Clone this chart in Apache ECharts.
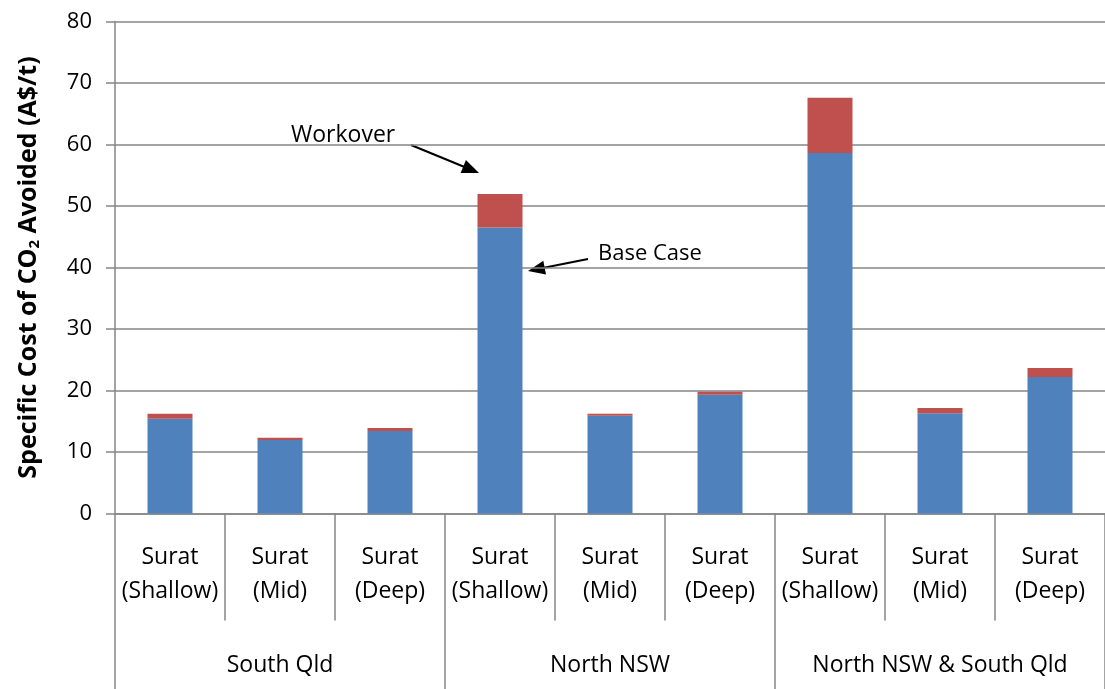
<!DOCTYPE html>
<html>
<head>
<meta charset="utf-8">
<title>Specific Cost of CO2 Avoided</title>
<script src="https://cdn.jsdelivr.net/npm/echarts@6/dist/echarts.min.js"></script>
<style>
  html, body { margin: 0; padding: 0; background: #ffffff; }
  #chart { width: 1105px; height: 689px; }
</style>
</head>
<body>
<div id="chart"></div>
<script>
// Region / depth categories
const categories = [
  'Surat\n(Shallow)', 'Surat\n(Mid)', 'Surat\n(Deep)',
  'Surat\n(Shallow)', 'Surat\n(Mid)', 'Surat\n(Deep)',
  'Surat\n(Shallow)', 'Surat\n(Mid)', 'Surat\n(Deep)'
];
const groups = ['South Qld', 'North NSW', 'North NSW & South Qld'];

// Specific cost (A$/t): base case and additional workover cost stacked on top
const baseCase = [15.4, 11.95, 13.4, 46.5, 15.9, 19.3, 58.6, 16.3, 22.2];
const workover = [0.8, 0.35, 0.5, 5.45, 0.3, 0.5, 9.0, 0.85, 1.45];

const yTicks = { min: 0, max: 80, interval: 10 };

const FONT = 'Open Sans';
const AXIS_GREY = '#868686';
const LINE_W = 1.5;

const chart = echarts.init(document.getElementById('chart'));

// Arrow made of a shaft and a filled triangular head
function arrow(x1, y1, x2, y2) {
  const len = 17, half = 7;
  const dx = x2 - x1, dy = y2 - y1;
  const d = Math.sqrt(dx * dx + dy * dy);
  const ux = dx / d, uy = dy / d;
  const bx = x2 - ux * len, by = y2 - uy * len;
  return [
    {
      type: 'line',
      shape: { x1: x1, y1: y1, x2: bx + ux * 2, y2: by + uy * 2 },
      style: { stroke: '#000', lineWidth: 2 }
    },
    {
      type: 'polygon',
      shape: { points: [[x2, y2], [bx - uy * half, by + ux * half], [bx + uy * half, by - ux * half]] },
      style: { fill: '#000' }
    }
  ];
}

const option = {
  animation: false,
  backgroundColor: '#ffffff',
  textStyle: { fontFamily: FONT },
  grid: { left: 115, right: -5, top: 21.5, bottom: 175.5, containLabel: false },
  xAxis: [
    {
      type: 'category',
      data: categories,
      position: 'bottom',
      boundaryGap: true,
      axisLine: { show: true, lineStyle: { color: AXIS_GREY, width: LINE_W } },
      axisTick: { show: true, interval: 0, length: 107, lineStyle: { color: AXIS_GREY, width: LINE_W } },
      axisLabel: { interval: 0, margin: 27, fontSize: 23, lineHeight: 34, color: '#000', fontFamily: FONT }
    },
    {
      type: 'category',
      data: groups,
      position: 'bottom',
      offset: 0,
      boundaryGap: true,
      axisLine: { show: false },
      axisTick: { show: true, interval: 0, length: 190, lineStyle: { color: AXIS_GREY, width: LINE_W } },
      axisLabel: { interval: 0, margin: 140, fontSize: 23, color: '#000', fontFamily: FONT }
    }
  ],
  yAxis: {
    type: 'value',
    min: yTicks.min,
    max: yTicks.max,
    interval: yTicks.interval,
    name: 'Specific Cost of CO{sub|2} Avoided (A$/t)',
    nameLocation: 'middle',
    nameGap: 73,
    nameTextStyle: {
      fontSize: 25,
      fontWeight: 'bold',
      color: '#000',
      fontFamily: FONT,
      rich: {
        sub: { fontSize: 15, fontWeight: 'bold', color: '#000', fontFamily: FONT, padding: [12, 0, 0, 0] }
      }
    },
    axisLine: { show: true, lineStyle: { color: AXIS_GREY, width: LINE_W } },
    axisTick: { show: true, length: 9, lineStyle: { color: AXIS_GREY, width: LINE_W } },
    axisLabel: { margin: 23, fontSize: 22, color: '#000', fontFamily: FONT },
    splitLine: { show: true, lineStyle: { color: AXIS_GREY, width: LINE_W } }
  },
  series: [
    {
      name: 'Base Case',
      type: 'bar',
      stack: 'cost',
      barWidth: 45,
      xAxisIndex: 0,
      itemStyle: { color: '#4F81BD' },
      data: baseCase
    },
    {
      name: 'Workover',
      type: 'bar',
      stack: 'cost',
      barWidth: 45,
      xAxisIndex: 0,
      itemStyle: { color: '#C0504D' },
      data: workover
    }
  ],
  graphic: [
    {
      type: 'text',
      left: 291, top: 124,
      style: { text: 'Workover', fontSize: 23, fill: '#000', fontFamily: FONT }
    },
    {
      type: 'text',
      left: 598, top: 243,
      style: { text: 'Base Case', fontSize: 22, fill: '#000', fontFamily: FONT }
    }
  ].concat(arrow(411, 145, 479, 173)).concat(arrow(588, 259, 528, 271))
};

chart.setOption(option);
</script>
</body>
</html>
